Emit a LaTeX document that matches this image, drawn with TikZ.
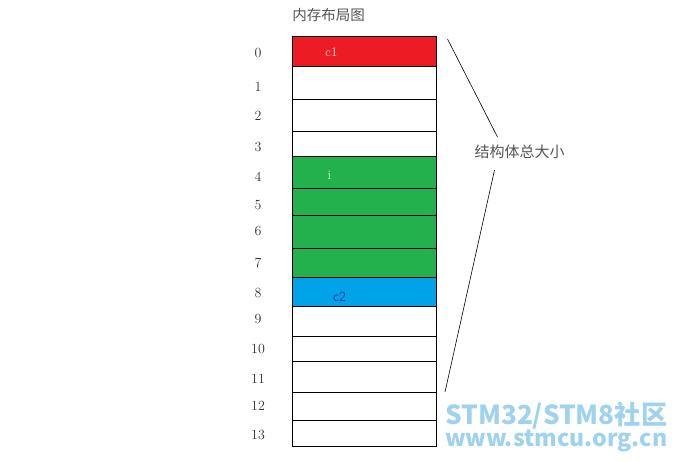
\documentclass[tikz,border=0pt]{standalone}
\usepackage{fontspec}
\newfontfamily\cjk{Noto Sans CJK SC}
\definecolor{memred}{RGB}{237,28,36}
\definecolor{memgreen}{RGB}{34,177,76}
\definecolor{memblue}{RGB}{0,162,232}
\definecolor{labgray}{RGB}{50,50,50}
\definecolor{titlegray}{RGB}{85,85,85}
\definecolor{darkblue}{RGB}{30,55,150}
\definecolor{wmblue}{RGB}{158,210,238}
\begin{document}
\begin{tikzpicture}[x=1pt,y=-1pt,
  cell/.style={draw=black,line width=0.9pt,rectangle,inner sep=0pt,outer sep=0pt,minimum width=144pt},
  idx/.style={text=labgray,font=\fontsize{14}{16}\selectfont,inner sep=0pt},
  cjktext/.style={text=titlegray,font=\cjk\fontsize{14.5}{16}\selectfont,inner sep=0pt},
  thin/.style={draw=black,line width=0.6pt}]
\useasboundingbox (0,0) rectangle (677,461);
% memory cells
\foreach \i/\t/\b/\c in {0/36/66/memred,1/66/99/white,2/99/131/white,3/131/156/white,
  4/156/188/memgreen,5/188/215/memgreen,6/215/248/memgreen,7/248/277/memgreen,
  8/277/306/memblue,9/306/336/white,10/336/361/white,11/361/392/white,
  12/392/420/white,13/420/446/white}
  \node[cell,fill=\c,minimum height={(\b-\t)*1pt}] (r\i) at (364,{(\t+\b)/2}) {};
% index labels
\foreach \i/\y in {0/53,1/87,2/116,3/147,4/177,5/205,6/231,7/263,8/293,9/319,10/349,11/379,12/406,13/435}
  \node[idx] (l\i) at (258,\y) {\i};
% field names
\node[text=white!90!red,font=\fontsize{13}{15}\selectfont,inner sep=0pt] (c1) at (331.5,52) {c1};
\node[text=white!80!green,font=\fontsize{13}{15}\selectfont,inner sep=0pt] (fi) at (329.5,175) {i};
\node[text=darkblue,font=\sffamily\fontsize{14}{16}\selectfont,inner sep=0pt] (c2) at (339.5,296.5) {c2};
% title
\node[cjktext] (title) at (328.5,15) {内存布局图};
% size annotation
\node[cjktext,font=\cjk\fontsize{15}{17}\selectfont] (size) at (519.5,152) {结构体总大小};
\coordinate (ua) at (447.5,39);
\coordinate (ub) at (497.5,137);
\coordinate (la) at (494.5,170);
\coordinate (lb) at (445,392);
\draw[thin] (ua) -- (ub);
\draw[thin] (la) -- (lb);
% watermark
\node[text=wmblue,inner sep=0pt,anchor=west] (wm1) at (445,416) {\resizebox{222pt}{!}{\cjk\bfseries STM32/STM8社区}};
\node[text=wmblue,inner sep=0pt,anchor=west] (wm2) at (445,441) {\resizebox{222pt}{!}{\cjk\bfseries www.stmcu.org.cn}};
\end{tikzpicture}
\end{document}
